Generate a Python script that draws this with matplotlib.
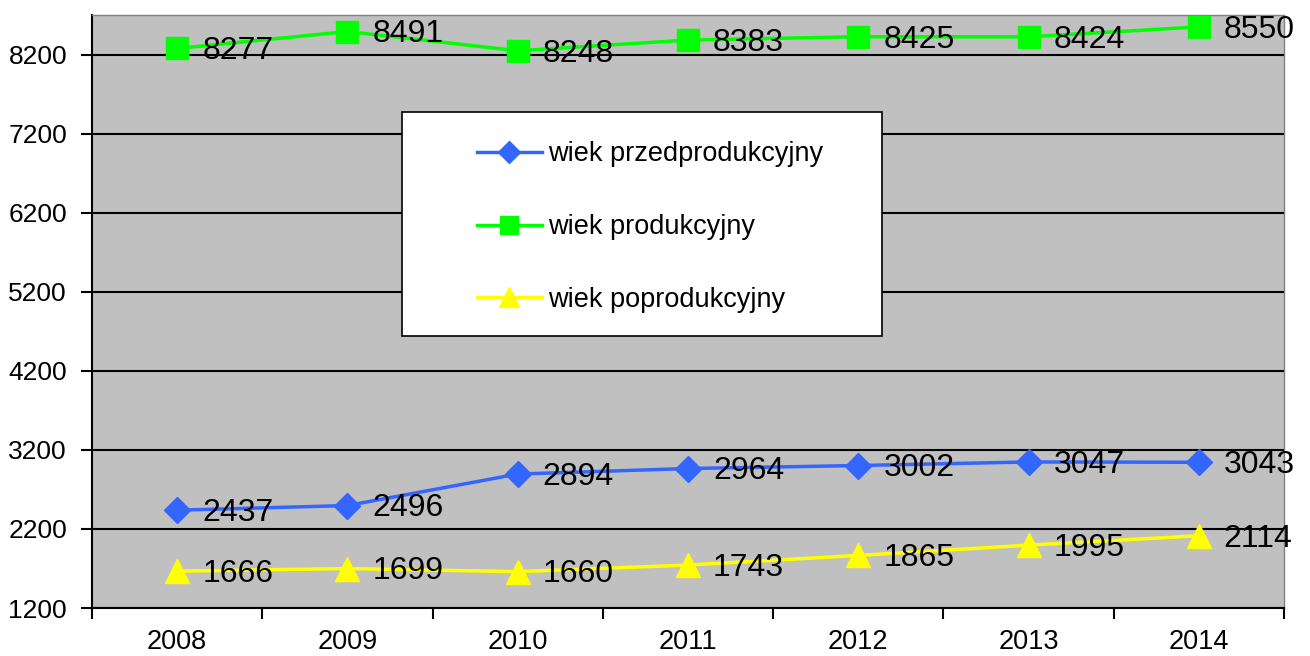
import matplotlib
matplotlib.use("Agg")
import matplotlib.pyplot as plt
from matplotlib.patches import Rectangle

years = ["2008", "2009", "2010", "2011", "2012", "2013", "2014"]
przed = [2437, 2496, 2894, 2964, 3002, 3047, 3043]
prod = [8277, 8491, 8248, 8383, 8425, 8424, 8550]
po = [1666, 1699, 1660, 1743, 1865, 1995, 2114]
labels = ["wiek przedprodukcyjny", "wiek produkcyjny", "wiek poprodukcyjny"]
yticks = [1200, 2200, 3200, 4200, 5200, 6200, 7200, 8200]

plt.rcParams['font.family'] = ['Liberation Sans', 'DejaVu Sans']

fig = plt.figure(figsize=(13.1, 6.56), dpi=100)
ax = fig.add_axes([92/1310, 48/656, 1192/1310, 593/656])
ax.set_facecolor('#C0C0C0')

x = list(range(len(years)))
series = [
    (przed, '#3366FF', 'D', 13),
    (prod, '#00FF00', 's', 15.5),
    (po, '#FFFF00', '^', 17),
]
handles = []
for (vals, col, mk, ms), lab in zip(series, labels):
    h, = ax.plot(x, vals, color=col, marker=mk, markersize=ms, linewidth=2.5,
                 markeredgecolor=col, label=lab, zorder=3, clip_on=False)
    handles.append(h)
    for xi, v in zip(x, vals):
        ax.annotate(str(v), (xi, v), xytext=(18, -2), textcoords='offset points',
                    ha='left', va='center', fontsize=23, color='black',
                    zorder=4, annotation_clip=False)

ax.set_ylim(1200, 8700)
ax.set_xlim(-0.5, len(years) - 0.5)
ax.set_yticks(yticks)
ax.set_yticklabels([str(t) for t in yticks], fontsize=19)
ax.set_xticks(x)
ax.set_xticklabels(years, fontsize=19.5)
ax.set_xticks([i - 0.5 for i in range(len(years) + 1)], minor=True)
ax.tick_params(axis='x', which='major', length=0, pad=15)
ax.tick_params(axis='x', which='minor', length=8, width=1.5, direction='out')
ax.tick_params(axis='y', length=8, width=1.5, pad=10, direction='out')

ax.yaxis.grid(True, color='black', linewidth=1.5, zorder=1)
ax.set_axisbelow(True)
for s in ['left', 'bottom']:
    ax.spines[s].set_color('black')
    ax.spines[s].set_linewidth(1.5)
for s in ['top', 'right']:
    ax.spines[s].set_color('#808080')
    ax.spines[s].set_linewidth(1)

# legend box
rect = Rectangle((0.26, 0.459), 0.403, 0.377, transform=ax.transAxes,
                 facecolor='white', edgecolor='black', linewidth=1.2, zorder=5)
ax.add_patch(rect)
leg = ax.legend(handles=handles, loc='center left', bbox_to_anchor=(0.3113, 0.6425),
                frameon=False, fontsize=19.5, borderpad=0, labelspacing=1.72,
                handlelength=2.4, handletextpad=0.25, markerscale=0.85)
leg.set_zorder(6)

fig.savefig('out.png', dpi=100)
